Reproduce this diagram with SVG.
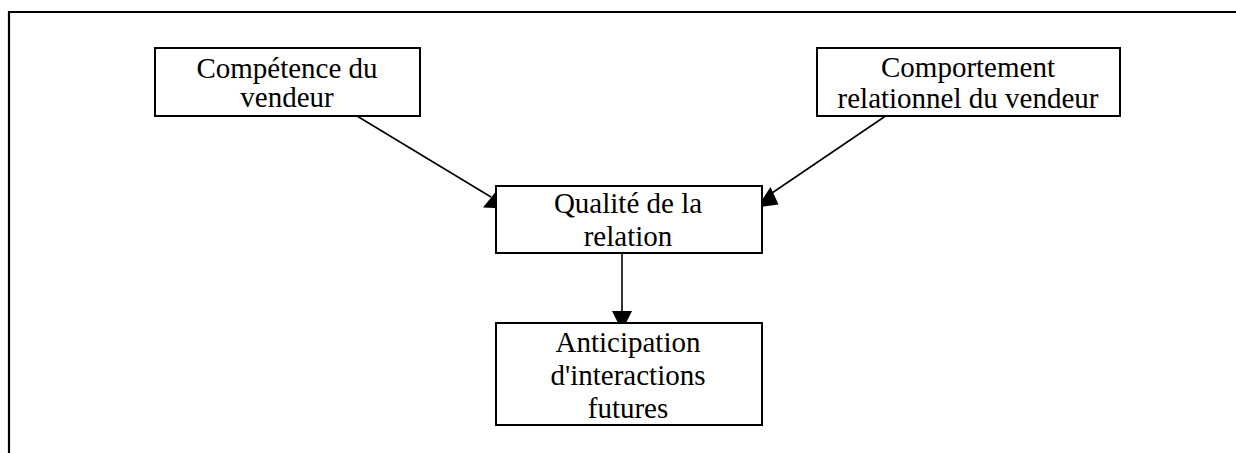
<svg xmlns="http://www.w3.org/2000/svg" width="1236" height="453" viewBox="0 0 1236 453">
<style>
.frame{stroke:#000;stroke-width:2.2;fill:none}
.box{fill:#fff;stroke:#000;stroke-width:2}
.lbl{font-size:29px;fill:#000;text-anchor:middle}
.conn{stroke:#000;stroke-width:1.6;fill:none}
.head{fill:#000;stroke:none}
</style>
<rect width="1236" height="453" fill="#fff"/>
<g id="frame">
<line class="frame" x1="8" y1="12" x2="1236" y2="12"/>
<line class="frame" x1="9" y1="11" x2="9" y2="453"/>
</g>
<g id="connectors">
<line class="conn" x1="352" y1="113" x2="491" y2="197"/>
<polygon class="head" points="496.7,190.5 483,207.5 506,208.5"/>
<line class="conn" x1="890" y1="113" x2="772" y2="193"/>
<polygon class="head" points="770.5,187 757,207.5 778.5,204.5"/>
<line class="conn" x1="622" y1="253" x2="622" y2="314"/>
<polygon class="head" points="612,311 632,311 622,331"/>
</g>
<g font-family="Liberation Serif, Times New Roman, DejaVu Serif, serif">
<g id="node-competence">
<rect class="box" x="155" y="48" width="265" height="68"/>
<text class="lbl" x="287" y="78">Compétence du</text>
<text class="lbl" x="287" y="107">vendeur</text>
</g>
<g id="node-comportement">
<rect class="box" x="817" y="48" width="303" height="68"/>
<text class="lbl" x="968" y="77">Comportement</text>
<text class="lbl" x="968" y="108">relationnel du vendeur</text>
</g>
<g id="node-qualite">
<rect class="box" x="496" y="186" width="266" height="67"/>
<text class="lbl" x="628" y="213">Qualité de la</text>
<text class="lbl" x="628" y="246">relation</text>
</g>
<g id="node-anticipation">
<rect class="box" x="496" y="323" width="266" height="102"/>
<text class="lbl" x="628" y="352">Anticipation</text>
<text class="lbl" x="628" y="385">d'interactions</text>
<text class="lbl" x="628" y="418">futures</text>
</g>
</g>
</svg>
